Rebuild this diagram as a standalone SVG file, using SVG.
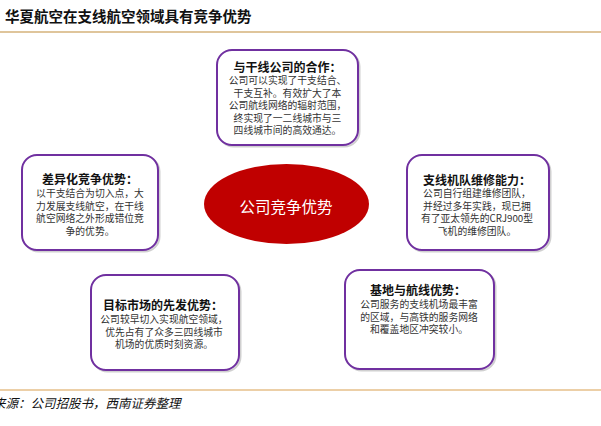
<svg xmlns="http://www.w3.org/2000/svg" width="601" height="426" viewBox="0 0 601 426">
<style>
.box{fill:#ffffff;stroke:#7030a0;stroke-width:2}
.shadow{fill:none;stroke:#d0d0d0;stroke-width:2}
.t{font-family:"Noto Sans CJK SC","Liberation Sans",sans-serif;font-size:12px;font-weight:bold;fill:#111;text-anchor:middle}
.b{font-family:"Noto Sans CJK SC","Liberation Sans",sans-serif;font-size:9.8px;fill:#333;text-anchor:middle}
</style>
<rect width="601" height="426" fill="#ffffff"/>
<text x="5" y="22" font-family="Noto Sans CJK SC, Liberation Sans, sans-serif" font-size="14.5" font-weight="bold" fill="#111">华夏航空在支线航空领域具有竞争优势</text>
<line x1="0" y1="32" x2="601" y2="32" stroke="#d4b27a" stroke-width="1.7"/>
<g id="connectors"></g>
<g id="center">
<ellipse cx="286.5" cy="204" rx="82.5" ry="40" fill="#c00000"/>
<text x="286" y="213" font-family="Noto Sans CJK SC, Liberation Sans, sans-serif" font-size="15.5" fill="#ffffff" text-anchor="middle">公司竞争优势</text>
</g>
<g id="node-top">
<rect class="shadow" x="218.5" y="51.5" width="141" height="95" rx="15"/>
<rect class="box" x="217" y="50" width="141" height="95" rx="15"/>
<text class="t" x="287.5" y="71.5">与干线公司的合作：</text>
<text class="b" x="287.5" y="84">公司可以实现了干支结合、</text>
<text class="b" x="287.5" y="96.6">干支互补。有效扩大了本</text>
<text class="b" x="287.5" y="109.2">公司航线网络的辐射范围，</text>
<text class="b" x="287.5" y="121.8">终实现了一二线城市与三</text>
<text class="b" x="287.5" y="134.4">四线城市间的高效通达。</text>
</g>
<g id="node-left">
<rect class="shadow" x="23.5" y="156.5" width="136" height="95" rx="15"/>
<rect class="box" x="22" y="155" width="136" height="95" rx="15"/>
<text class="t" x="90" y="184">差异化竞争优势：</text>
<text class="b" x="90" y="197">以干支结合为切入点，大</text>
<text class="b" x="90" y="209.6">力发展支线航空，在干线</text>
<text class="b" x="90" y="222.2">航空网络之外形成错位竞</text>
<text class="b" x="90" y="234.8">争的优势。</text>
</g>
<g id="node-right">
<rect class="shadow" x="408.5" y="156.5" width="142" height="95" rx="15"/>
<rect class="box" x="407" y="155" width="142" height="95" rx="15"/>
<text class="t" x="477" y="184.5">支线机队维修能力：</text>
<text class="b" x="477" y="197">公司自行组建维修团队，</text>
<text class="b" x="477" y="209.6">并经过多年实践，现已拥</text>
<text class="b" x="477" y="222.2">有了亚太领先的CRJ900型</text>
<text class="b" x="477" y="234.8">飞机的维修团队。</text>
</g>
<g id="node-bottom-left">
<rect class="shadow" x="92.5" y="276.5" width="148" height="95" rx="15"/>
<rect class="box" x="91" y="275" width="148" height="95" rx="15"/>
<text class="t" x="163" y="309.5">目标市场的先发优势：</text>
<text class="b" x="164" y="323">公司较早切入实现航空领域，</text>
<text class="b" x="164" y="335.6">优先占有了众多三四线城市</text>
<text class="b" x="164" y="348.2">机场的优质时刻资源。</text>
</g>
<g id="node-bottom-right">
<rect class="shadow" x="346.5" y="271.5" width="149" height="99" rx="15"/>
<rect class="box" x="345" y="270" width="149" height="99" rx="15"/>
<text class="t" x="418" y="294.5">基地与航线优势：</text>
<text class="b" x="419" y="308">公司服务的支线机场最丰富</text>
<text class="b" x="419" y="320.6">的区域，与高铁的服务网络</text>
<text class="b" x="419" y="333.2">和覆盖地区冲突较小。</text>
</g>
<line x1="0" y1="390" x2="601" y2="390" stroke="#daa050" stroke-width="1.2"/>
<text x="-7" y="408" font-family="Noto Sans CJK SC, Liberation Sans, sans-serif" font-size="12.5" font-style="italic" fill="#111">来源：公司招股书，西南证券整理</text>
</svg>
